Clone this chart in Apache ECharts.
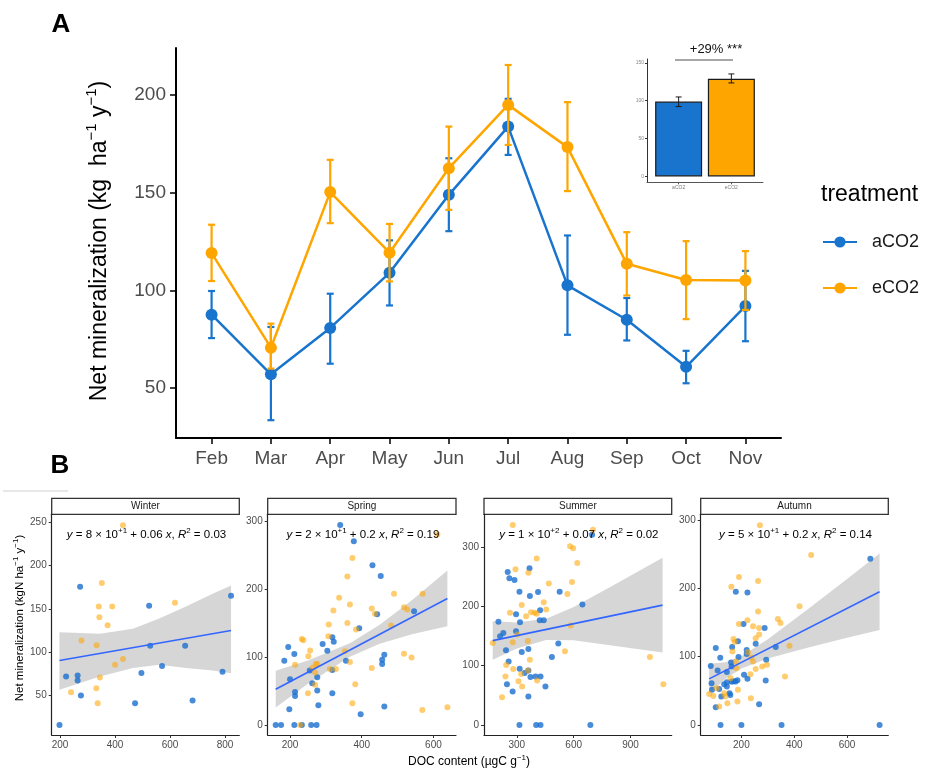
<!DOCTYPE html>
<html>
<head>
<meta charset="utf-8">
<script src="https://cdn.jsdelivr.net/npm/echarts@6/dist/echarts.min.js"></script>
<style>html,body{margin:0;padding:0;background:#fff}#c{width:938px;height:774px}</style>
</head>
<body>
<div id="c"></div>
<script>
// ---------- Panel A data ----------
const months = ['Feb','Mar','Apr','May','Jun','Jul','Aug','Sep','Oct','Nov'];
const aMean = [87.6, 57.1, 80.8, 109, 148.9, 183.8, 102.6, 85, 60.9, 92];
const aLow  = [75.6, 33.6, 62.5, 92.3, 130.3, 169.3, 77.3, 74.4, 52.5, 74];
const aHigh = [99.7, 81.3, 98.3, 125.6, 167.6, 198, 128.1, 96.1, 69.1, 110];
const eMean = [119.1, 70.7, 150.3, 119.3, 162.5, 194.9, 173.3, 113.6, 105.3, 105.1];
const eLow  = [104.8, 60, 134.4, 104.6, 141.2, 174.4, 150.8, 97.4, 85.3, 90];
const eHigh = [133.6, 83, 166.8, 134, 183.8, 215.3, 196.3, 129.8, 125.2, 120.1];
const axisTicksA = [50, 100, 150, 200];

// ---------- Inset data ----------
const insetCats = ['aCO2', 'eCO2'];
const insetMean = [98.8, 128.8];
const insetLow = [92.2, 123.4];
const insetHigh = [104.9, 135.3];
const insetTicks = [0, 50, 100, 150];

// ---------- Panel B data ----------
const seasons = ['Winter', 'Spring', 'Summer', 'Autumn'];
const winterBlue = [[198,15.5],[222,71.7],[273,175.6],[264,72.9],[264,67],[276,49.6],[473,40.7],[496,75.6],[524,153.5],[528,107.4],[571,83.7],[655,107.4],[682,43.8],[791,77.1],[822,165.1]];
const winterOrange = [[429,246.9],[352,179.8],[341,152.7],[390,152.7],[343,140.3],[373,131],[278,113.2],[333,107.8],[429,91.9],[400,85.3],[345,70.5],[332,58.1],[240,53.5],[337,40.7],[618,157]];
const winterFit = [[198,90.1],[822,125]];
const winterBandX = [198,345,465,561,658,755,822];
const winterBandLo = [56.2,71.7,81.4,85.3,81.4,78.7,75.5];
const winterBandHi = [122.8,121.3,127,138.8,152.6,167.4,177];

const springBlue = [[340,293.6],[378,270],[430,234.6],[453,218.8],[443,162.8],[393,142.1],[546,167.2],[291,119],[318,128.8],[322,122.4],[304,109.1],[195,114.5],[184,94.4],[212,104.2],[200,67.3],[198,23],[214,48.6],[214,42.7],[262,61.4],[276,70.3],[255,80.1],[318,80.6],[276,50.6],[279,29],[318,46.7],[356,94.4],[397,15.7],[463,103.2],[457,95.9],[457,89.5],[463,27],[160,0],[175,0],[212,0],[233,0],[259,0],[274,0]];
const springOrange = [[611,280.3],[374,245.4],[360,218.3],[367,177],[337,186.9],[321,168.2],[308,147.5],[307,130.3],[360,150],[428,171.1],[437,163.3],[490,192.8],[570,192.8],[518,173.1],[527,169.7],[482,146],[384,140.1],[233,126.4],[237,124.4],[251,100.8],[256,109.6],[214,88.5],[263,84.5],[272,89.5],[276,89.5],[311,82.1],[328,82.1],[367,92.4],[353,108.2],[428,83.6],[518,104.7],[539,99.3],[250,46.7],[270,59],[382,60],[374,31.9],[569,22.1],[639,26],[228,0],[270,77.2]];
const springFit = [[160,52.6],[639,185.9]];
const springBandX = [160,250,367,450,540,639];
const springBandLo = [25.6,60.6,100.2,119.3,133.4,144.9];
const springBandHi = [79.6,94.6,120.2,147.3,183.4,226.9];

const summerBlue = [[261,247.5],[252,258.2],[288,244.6],[314,224.9],[367,264.4],[369,217.5],[412,224.3],[526,224.9],[646,203.4],[697,320.9],[203,174],[212,149.7],[229,155.4],[243,126],[296,187],[317,173.4],[296,158.2],[423,193.8],[421,176.8],[442,176.8],[361,128.2],[326,123.2],[519,137.3],[485,114.7],[257,107.3],[315,94.9],[341,87.6],[361,92.1],[372,80.8],[399,81.9],[425,81.9],[248,68.9],[278,56.5],[451,65],[361,48],[314,0],[402,0],[425,0],[688,0]];
const summerOrange = [[279,337.3],[702,329.4],[293,262.7],[361,257],[405,280.8],[581,301.7],[597,298.3],[619,273.4],[591,241.2],[469,238.9],[567,220.9],[442,207.3],[455,194.9],[326,202.3],[264,189.3],[375,190.4],[394,189.3],[405,187.6],[349,183.6],[584,167.8],[303,152.5],[279,139.5],[358,141.8],[173,138.4],[244,101.1],[369,110.2],[554,124.3],[281,94.4],[358,92.1],[240,81.9],[309,74],[323,85.9],[328,65],[407,75.1],[222,46.9],[1002,114.7],[1073,68.9]];
const summerFit = [[173,142.4],[1069,202.3]];
const summerBandX = [173,300,455,600,800,1069];
const summerBandLo = [109.9,128.9,143.3,142.9,134.3,122.3];
const summerBandHi = [174.9,172.9,179.3,198.9,234.3,282.3];

const autumnBlue = [[688,243.6],[179,195.1],[223,194.1],[208,148],[288,142.2],[254,119.1],[220,109.8],[165,114.2],[103,112.7],[330,114.2],[294,95.6],[220,103.9],[189,99.5],[120,98.5],[84,86.3],[161,91.7],[163,85.8],[187,122.5],[87,61.3],[89,51.5],[110,79.9],[145,77.5],[210,73.5],[223,67.6],[292,65.2],[185,65.7],[163,63.2],[171,64.2],[178,63.7],[145,62.7],[135,59.8],[116,52.9],[145,56.4],[155,46.6],[158,44.1],[124,41.7],[103,26],[267,30.4],[121,0],[200,0],[352,0],[723,0]];
const autumnOrange = [[270,292.6],[464,249],[191,216.7],[263,210.8],[162,202.5],[420,174],[263,166.2],[191,148],[223,153.4],[244,144.6],[267,142.2],[267,132.4],[254,127],[338,155.4],[348,149.5],[382,116.2],[170,126],[175,121.6],[166,107.8],[179,93.1],[181,83.3],[244,93.1],[234,74.5],[254,81.9],[279,85.8],[297,88.2],[365,71.1],[159,68.6],[187,51.5],[78,45.6],[94,42.6],[106,53.9],[135,46.6],[139,41.7],[147,31.9],[116,27],[185,34.3],[236,39.2],[225,106.4],[238,99]];
const autumnFit = [[78,67.6],[723,195.1]];
const autumnBandX = [78,140,200,300,450,600,723];
const autumnBandLo = [45.6,67.9,82.7,97.5,113.1,127.8,139.1];
const autumnBandHi = [89.6,91.9,100.7,125.5,169.1,213.8,251.1];

const equations = [
  ['8', '+1', '0.06', '0.03'],
  ['2', '+1', '0.2', '0.19'],
  ['1', '+2', '0.07', '0.02'],
  ['5', '+1', '0.2', '0.14']
];
const xTicksB = [[200,400,600,800],[200,400,600],[300,600,900],[200,400,600]];
const yTicksB = [[50,100,150,200,250],[0,100,200,300],[0,100,200,300],[0,100,200,300]];

// ---------- layout ----------
const FONT = '"Liberation Sans", Arial, Helvetica, sans-serif';
const BLUE = '#1874CD', ORANGE = '#FFA500';
const facetLayout = [
  {left: 51.7, width: 187.6, xr: [169.7, 852], yr: [3.9, 259.5]},
  {left: 267.7, width: 188.3, xr: [137.7, 663], yr: [-14.7, 309.5]},
  {left: 484, width: 187.7, xr: [127, 1117], yr: [-16.9, 355.5]},
  {left: 700.7, width: 187.6, xr: [46, 756], yr: [-14.6, 308.5]}
];
const facetData = [
  {blue: winterBlue, orange: winterOrange, fit: winterFit, bx: winterBandX, lo: winterBandLo, hi: winterBandHi},
  {blue: springBlue, orange: springOrange, fit: springFit, bx: springBandX, lo: springBandLo, hi: springBandHi},
  {blue: summerBlue, orange: summerOrange, fit: summerFit, bx: summerBandX, lo: summerBandLo, hi: summerBandHi},
  {blue: autumnBlue, orange: autumnOrange, fit: autumnFit, bx: autumnBandX, lo: autumnBandLo, hi: autumnBandHi}
];
const FTOP = 514.3, FBOT = 735;

function errRender(color, capHalf, lw) {
  return function (params, api) {
    const x = api.value(0), lo = api.value(1), hi = api.value(2);
    const p1 = api.coord([x, lo]), p2 = api.coord([x, hi]);
    const st = {stroke: color, lineWidth: lw};
    return {type: 'group', children: [
      {type: 'line', shape: {x1: p1[0], y1: p1[1], x2: p2[0], y2: p2[1]}, style: st},
      {type: 'line', shape: {x1: p1[0] - capHalf, y1: p1[1], x2: p1[0] + capHalf, y2: p1[1]}, style: st},
      {type: 'line', shape: {x1: p2[0] - capHalf, y1: p2[1], x2: p2[0] + capHalf, y2: p2[1]}, style: st}
    ]};
  };
}
function bandRender(bx, lo, hi) {
  return function (params, api) {
    const pts = [];
    for (let i = 0; i < bx.length; i++) pts.push(api.coord([bx[i], hi[i]]));
    for (let i = bx.length - 1; i >= 0; i--) pts.push(api.coord([bx[i], lo[i]]));
    return {type: 'polygon', shape: {points: pts}, style: {fill: 'rgba(153,153,153,0.4)'}};
  };
}

const grids = [
  {left: 176, top: 48, width: 605, height: 390},
  {left: 647, top: 59, width: 116, height: 123.3}
];
const xAxes = [
  {gridIndex: 0, type: 'value', min: -0.6, max: 9.6,
   axisLine: {show: true, onZero: false, lineStyle: {color: '#000', width: 2}},
   axisTick: {show: true, length: 6, lineStyle: {color: '#000', width: 1.5}, customValues: months.map((m, i) => i)},
   axisLabel: {show: true, fontSize: 19, color: '#4d4d4d', margin: 11, customValues: months.map((m, i) => i), formatter: v => months[Math.round(v)]},
   splitLine: {show: false}},
  {gridIndex: 1, type: 'value', min: -0.6, max: 1.6,
   axisLine: {show: true, onZero: false, lineStyle: {color: '#555', width: 1}},
   axisTick: {show: true, length: 2, lineStyle: {color: '#555'}, customValues: [0, 1]},
   axisLabel: {show: true, fontSize: 5, color: '#777', margin: 3, customValues: [0, 1], formatter: v => insetCats[Math.round(v)]},
   splitLine: {show: false}}
];
const yAxes = [
  {gridIndex: 0, type: 'value', min: 24.5, max: 224,
   axisLine: {show: true, onZero: false, lineStyle: {color: '#000', width: 2}},
   axisTick: {show: true, length: 6, lineStyle: {color: '#000', width: 1.5}, customValues: axisTicksA},
   axisLabel: {show: true, fontSize: 19, color: '#4d4d4d', margin: 10, customValues: axisTicksA},
   splitLine: {show: false}},
  {gridIndex: 1, type: 'value', min: -7.7, max: 155,
   axisLine: {show: true, onZero: false, lineStyle: {color: '#333', width: 1}},
   axisTick: {show: true, length: 2, lineStyle: {color: '#333'}, customValues: insetTicks},
   axisLabel: {show: true, fontSize: 5, color: '#888', margin: 3, customValues: insetTicks},
   splitLine: {show: false}}
];
const series = [
  {type: 'custom', name: 'aErr', xAxisIndex: 0, yAxisIndex: 0, renderItem: errRender(BLUE, 3.5, 2.2),
   encode: {x: 0, y: [1, 2]}, data: months.map((m, i) => [i, aLow[i], aHigh[i]]), z: 2, silent: true},
  {type: 'line', name: 'aCO2', xAxisIndex: 0, yAxisIndex: 0, data: months.map((m, i) => [i, aMean[i]]),
   symbol: 'circle', symbolSize: 12, showAllSymbol: true, lineStyle: {color: BLUE, width: 2.5}, itemStyle: {color: BLUE}, z: 3},
  {type: 'custom', name: 'eErr', xAxisIndex: 0, yAxisIndex: 0, renderItem: errRender(ORANGE, 3.5, 2.2),
   encode: {x: 0, y: [1, 2]}, data: months.map((m, i) => [i, eLow[i], eHigh[i]]), z: 4, silent: true},
  {type: 'line', name: 'eCO2', xAxisIndex: 0, yAxisIndex: 0, data: months.map((m, i) => [i, eMean[i]]),
   symbol: 'circle', symbolSize: 12, showAllSymbol: true, lineStyle: {color: ORANGE, width: 2.5}, itemStyle: {color: ORANGE}, z: 5},
  {type: 'bar', name: 'inset', xAxisIndex: 1, yAxisIndex: 1, barWidth: 47,
   data: insetMean.map((v, i) => ({value: [i, v], itemStyle: {color: i === 0 ? BLUE : ORANGE, borderColor: '#1a1a1a', borderWidth: 1.2}})), z: 2},
  {type: 'custom', name: 'insetErr', xAxisIndex: 1, yAxisIndex: 1, renderItem: errRender('#1a1a1a', 3, 1),
   encode: {x: 0, y: [1, 2]}, data: insetMean.map((v, i) => [i, insetLow[i], insetHigh[i]]), z: 3, silent: true}
];

facetLayout.forEach((f, k) => {
  const gi = 2 + k;
  grids.push({left: f.left, top: FTOP, width: f.width, height: FBOT - FTOP});
  xAxes.push({gridIndex: gi, type: 'value', min: f.xr[0], max: f.xr[1],
    axisLine: {show: true, onZero: false, lineStyle: {color: '#222', width: 1.2}},
    axisTick: {show: true, length: 3, lineStyle: {color: '#333'}, customValues: xTicksB[k]},
    axisLabel: {show: true, fontSize: 10, color: '#4d4d4d', margin: 5, customValues: xTicksB[k]},
    splitLine: {show: false}});
  yAxes.push({gridIndex: gi, type: 'value', min: f.yr[0], max: f.yr[1],
    axisLine: {show: true, onZero: false, lineStyle: {color: '#222', width: 1.2}},
    axisTick: {show: true, length: 3, lineStyle: {color: '#333'}, customValues: yTicksB[k]},
    axisLabel: {show: true, fontSize: 10, color: '#4d4d4d', margin: 5, customValues: yTicksB[k]},
    splitLine: {show: false}});
  const d = facetData[k];
  series.push({type: 'custom', xAxisIndex: gi, yAxisIndex: gi, renderItem: bandRender(d.bx, d.lo, d.hi),
    encode: {x: 0, y: 1}, data: [[d.bx[0], d.lo[0]]], z: 1, silent: true});
  series.push({type: 'scatter', name: seasons[k] + ' aCO2', xAxisIndex: gi, yAxisIndex: gi, data: d.blue,
    symbolSize: 6, itemStyle: {color: '#1a6fd0'}, z: 2});
  series.push({type: 'scatter', name: seasons[k] + ' eCO2', xAxisIndex: gi, yAxisIndex: gi, data: d.orange,
    symbolSize: 6, itemStyle: {color: 'rgba(255,165,0,0.7)'}, z: 3});
  series.push({type: 'line', xAxisIndex: gi, yAxisIndex: gi, data: d.fit, symbol: 'none',
    lineStyle: {color: '#3366FF', width: 1.6}, z: 4, silent: true});
});

// ---------- text graphics ----------
const graphics = [
  {type: 'text', x: 61, y: 25, style: {text: 'A', font: 'bold 26px ' + FONT, fill: '#000', align: 'center', verticalAlign: 'middle'}},
  {type: 'text', x: 60, y: 466, style: {text: 'B', font: 'bold 26px ' + FONT, fill: '#000', align: 'center', verticalAlign: 'middle'}},
  {type: 'text', x: 100, y: 241, rotation: Math.PI / 2, style: {
    text: '{t|Net mineralization (kg  ha}{s|−1}{t| y}{s|−1}{t|)}', align: 'center', verticalAlign: 'middle',
    rich: {t: {fontSize: 23, fontFamily: FONT, fill: '#000', lineHeight: 32},
           s: {fontSize: 15, fontFamily: FONT, fill: '#000', lineHeight: 16, verticalAlign: 'top'}}}},
  {type: 'text', x: 821, y: 195, style: {text: 'treatment', font: '23px ' + FONT, fill: '#000', align: 'left', verticalAlign: 'middle'}},
  {type: 'text', x: 716, y: 49, style: {text: '+29% ***', font: '13px ' + FONT, fill: '#111', align: 'center', verticalAlign: 'middle'}},
  {type: 'line', shape: {x1: 675, y1: 60, x2: 733, y2: 60}, style: {stroke: '#8a8a8a', lineWidth: 1.5}},
  {type: 'line', shape: {x1: 3, y1: 491, x2: 68, y2: 491}, style: {stroke: '#cfcfcf', lineWidth: 1}},
  {type: 'text', x: 20, y: 618, rotation: Math.PI / 2, style: {
    text: '{t|Net mineralization (kgN ha}{s|−1}{t| y}{s|−1}{t|)}', align: 'center', verticalAlign: 'middle',
    rich: {t: {fontSize: 11.5, fontFamily: FONT, fill: '#000', lineHeight: 16},
           s: {fontSize: 8, fontFamily: FONT, fill: '#000', lineHeight: 8, verticalAlign: 'top'}}}},
  {type: 'text', x: 469, y: 762, style: {
    text: '{t|DOC content (µgC g}{s|−1}{t|)}', align: 'center', verticalAlign: 'middle',
    rich: {t: {fontSize: 12, fontFamily: FONT, fill: '#000', lineHeight: 16},
           s: {fontSize: 8, fontFamily: FONT, fill: '#000', lineHeight: 8, verticalAlign: 'top'}}}}
];
facetLayout.forEach((f, k) => {
  graphics.push({type: 'rect', shape: {x: f.left, y: 498.3, width: f.width, height: 16},
    style: {fill: '#fff', stroke: '#333', lineWidth: 1.3}});
  graphics.push({type: 'text', x: f.left + f.width / 2, y: 506.3,
    style: {text: seasons[k], font: '10px ' + FONT, fill: '#1a1a1a', align: 'center', verticalAlign: 'middle'}});
  const e = equations[k];
  graphics.push({type: 'text', x: f.left + f.width / 2 + 1, y: 535, z: 10, style: {
    text: '{i|y}{t| = ' + e[0] + ' × 10}{s|' + e[1] + '}{t| + ' + e[2] + ' }{i|x}{t|, }{i|R}{s|2}{t| = ' + e[3] + '}',
    align: 'center', verticalAlign: 'middle',
    rich: {t: {fontSize: 11.5, fontFamily: FONT, fill: '#000', lineHeight: 16},
           i: {fontSize: 11.5, fontFamily: FONT, fontStyle: 'italic', fill: '#000', lineHeight: 16},
           s: {fontSize: 8, fontFamily: FONT, fill: '#000', lineHeight: 8, verticalAlign: 'top'}}}});
});

const chart = echarts.init(document.getElementById('c'), null, {renderer: 'canvas'});
chart.setOption({
  animation: false,
  backgroundColor: '#fff',
  textStyle: {fontFamily: FONT},
  grid: grids.map(g => Object.assign({outerBoundsMode: 'none'}, g)),
  xAxis: xAxes,
  yAxis: yAxes,
  legend: {data: ['aCO2', 'eCO2'], orient: 'vertical', left: 822, top: 233, itemWidth: 34, itemHeight: 14, itemGap: 28,
    padding: 0, textStyle: {fontSize: 18, color: '#1a1a1a', padding: [0, 0, 0, 10]}, selectedMode: false},
  series: series,
  graphic: graphics
});
</script>
</body>
</html>
